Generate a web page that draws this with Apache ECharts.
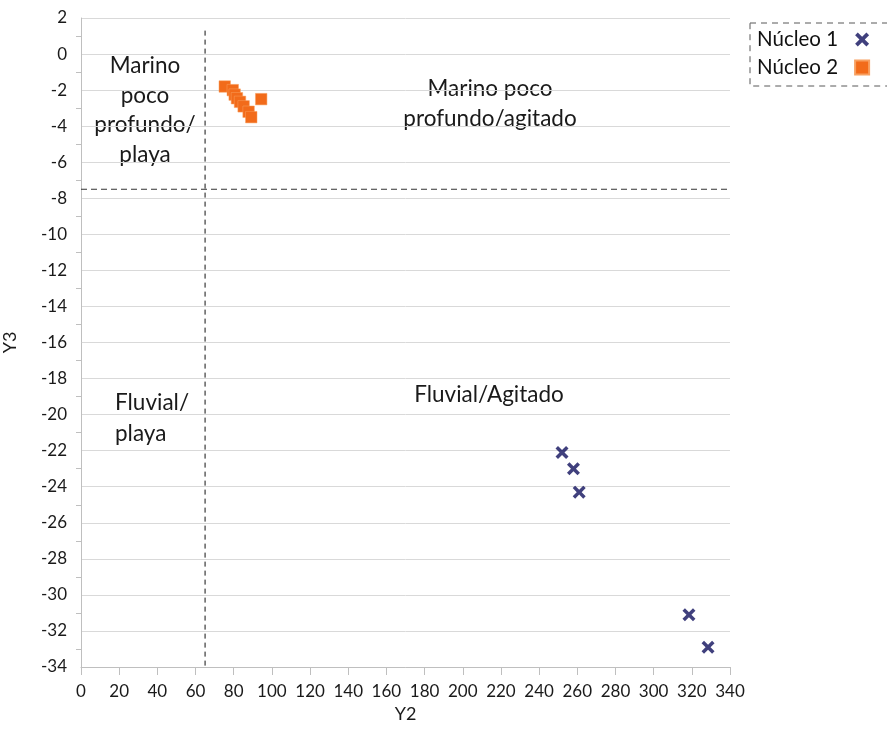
<!DOCTYPE html>
<html>
<head>
<meta charset="utf-8">
<script src="https://cdn.jsdelivr.net/npm/echarts@6/dist/echarts.min.js"></script>
<style>
html,body{margin:0;padding:0;background:#fff;}
#chart{width:887px;height:740px;}
</style>
</head>
<body>
<div id="chart"></div>
<script>
// Data
const nucleo1 = [[252, -22.1], [258, -23.0], [261, -24.3], [318.5, -31.1], [328.5, -32.9]];
const nucleo2 = [[75.3, -1.8], [79.5, -2.0], [80.5, -2.25], [81.7, -2.45], [83.3, -2.65], [85.2, -2.9], [87.8, -3.2], [89.2, -3.5], [94.4, -2.5]];
const seriesNames = ['Núcleo 1', 'Núcleo 2'];
const vLineX = 65;
const hLineY = -7.5;
const xTicks = {min: 0, max: 340, interval: 20};
const yTicks = {min: -34, max: 2, interval: 2};
const axisNames = {x: 'Y2', y: 'Y3'};

const FONT = 'Lato';
const chart = echarts.init(document.getElementById('chart'), null, {renderer: 'canvas'});
const crossPath = 'path://M0,1.9L1.9,0L5,3.1L8.1,0L10,1.9L6.9,5L10,8.1L8.1,10L5,6.9L1.9,10L0,8.1L3.1,5Z';

chart.setOption({
  animation: false,
  textStyle: {fontFamily: FONT},
  grid: {left: 81, right: 157, top: 18, bottom: 73, containLabel: false, outerBoundsMode: 'none'},
  legend: {
    orient: 'vertical', left: 750, top: 23, align: 'right',
    data: seriesNames,
    itemWidth: 14, itemHeight: 14, itemGap: 7,
    padding: [6, 40, 8, 7],
    borderColor: '#595959', borderWidth: 1, borderType: [6, 5],
    textStyle: {fontFamily: FONT, fontSize: 20.5, color: '#111', padding: [0, 12, 0, 0]}
  },
  xAxis: {
    type: 'value', min: xTicks.min, max: xTicks.max, interval: xTicks.interval,
    name: axisNames.x, nameLocation: 'middle', nameGap: 38, nameMoveOverlap: false,
    nameTextStyle: {fontFamily: FONT, fontSize: 18, color: '#1a1a1a'},
    axisLine: {show: true, onZero: false, lineStyle: {color: '#bfbfbf'}},
    axisTick: {show: true, length: 8, lineStyle: {color: '#bfbfbf'}},
    axisLabel: {fontFamily: FONT, fontSize: 17, color: '#1a1a1a', margin: 16},
    splitLine: {show: false}
  },
  yAxis: {
    type: 'value', min: yTicks.min, max: yTicks.max, interval: yTicks.interval,
    name: axisNames.y, nameLocation: 'middle', nameGap: 62, nameMoveOverlap: false,
    nameTextStyle: {fontFamily: FONT, fontSize: 18, color: '#1a1a1a'},
    axisLine: {show: true, onZero: false, lineStyle: {color: '#bfbfbf'}},
    axisTick: {show: false},
    minorTick: {show: true, splitNumber: 2, length: 5, lineStyle: {color: '#bfbfbf'}},
    axisLabel: {fontFamily: FONT, fontSize: 17, color: '#1a1a1a', margin: 14},
    splitLine: {show: true, lineStyle: {color: '#d9d9d9', width: 1}}
  },
  graphic: [
    {type: 'text', x: 145, y: 51, style: {text: 'Marino\npoco\nprofundo/\nplaya', align: 'center', lineHeight: 29.5, fontFamily: FONT, fontSize: 22.5, fill: '#1a1a1a'}},
    {type: 'text', x: 490, y: 74, style: {text: 'Marino poco\nprofundo/agitado', align: 'center', lineHeight: 29.5, fontFamily: FONT, fontSize: 22.5, fill: '#1a1a1a'}},
    {type: 'text', x: 115, y: 387, style: {text: 'Fluvial/\nplaya', align: 'left', lineHeight: 31, fontFamily: FONT, fontSize: 22.5, fill: '#1a1a1a'}},
    {type: 'text', x: 489, y: 383, style: {text: 'Fluvial/Agitado', align: 'center', fontFamily: FONT, fontSize: 22.5, fill: '#1a1a1a'}}
  ],
  series: [
    {
      name: 'vline', type: 'line', data: [[vLineX, 1.3], [vLineX, yTicks.min]],
      symbol: 'none', silent: true, clip: false,
      lineStyle: {color: '#111', width: 1, type: [5, 4]}, z: 1
    },
    {
      name: 'hline', type: 'line', data: [[xTicks.min, hLineY], [344, hLineY]],
      symbol: 'none', silent: true, clip: false,
      lineStyle: {color: '#333', width: 1, type: [6, 4]}, z: 1
    },
    {
      name: seriesNames[0], type: 'scatter', data: nucleo1,
      symbol: crossPath, symbolSize: 13,
      itemStyle: {color: '#10105c'}, z: 3
    },
    {
      name: seriesNames[1], type: 'scatter', data: nucleo2,
      symbol: 'rect', symbolSize: 11.5,
      itemStyle: {color: '#f26b1a', borderColor: '#f8a060', borderWidth: 0.5, opacity: 1}, z: 4
    }
  ]
});
</script>
</body>
</html>
